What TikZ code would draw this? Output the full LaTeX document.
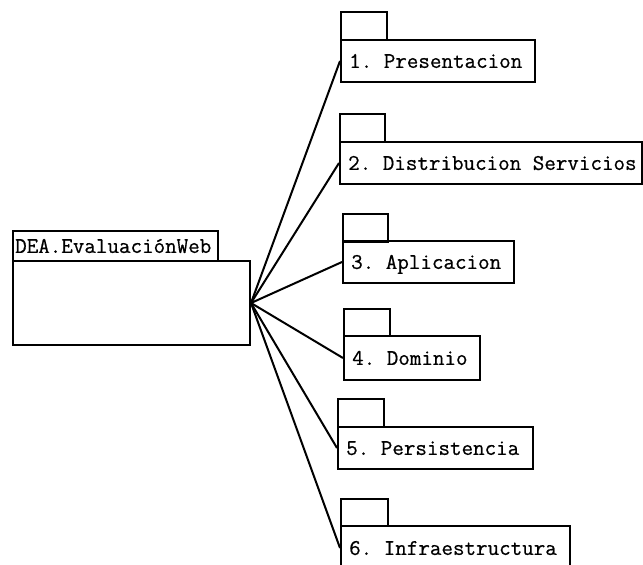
\documentclass[tikz,border=0pt]{standalone}
\usepackage{fontspec}
\newfontfamily\pkgfont{Latin Modern Mono}[UprightFeatures={FakeBold=0.6}]
\begin{document}
\begin{tikzpicture}[x=1pt,y=-1pt,
  box/.style={draw=black,line width=2pt,rectangle,anchor=north west,inner sep=0pt},
  tabbox/.style={box,minimum width=#1,minimum height=28},
  pkgbody/.style={box,minimum width=#1,minimum height=42},
  pkgname/.style={font=\pkgfont\fontsize{22.4}{24}\selectfont\frenchspacing,anchor=west,
    inner sep=0pt,text height=13.8pt,text depth=0pt},
  link/.style={draw=black,line width=2pt}]
  \useasboundingbox (0,0) rectangle (643,565);
  \clip (0,0) rectangle (643,565);

  % main package
  \node[box,minimum width=205,minimum height=30] (maintab) at (12,230) {};
  \node[pkgname] (mainname) at ([xshift=3pt]maintab.west) {DEA.EvaluaciónWeb};
  \node[box,minimum width=237,minimum height=84] (main) at (12,260) {};
  \coordinate (hub) at (main.east);

  % sub-packages: tab, body and name
  \node[tabbox=46] (t1) at (340,11) {};
  \node[pkgbody=194] (p1) at (340,39) {};
  \node[pkgname] (n1) at ([xshift=9pt]p1.west) {1. Presentacion};

  \node[tabbox=45] (t2) at (339,113) {};
  \node[pkgbody=302] (p2) at (339,141) {};
  \node[pkgname] (n2) at ([xshift=9pt]p2.west) {2. Distribucion Servicios};

  \node[tabbox=45] (t3) at (342,213) {};
  \node[pkgbody=171] (p3) at (342,240) {};
  \node[pkgname] (n3) at ([xshift=9pt]p3.west) {3. Aplicacion};

  \node[tabbox=46,minimum height=27] (t4) at (343,308) {};
  \node[pkgbody=136,minimum height=44] (p4) at (343,335) {};
  \node[pkgname] (n4) at ([xshift=9pt]p4.west) {4. Dominio};

  \node[tabbox=46] (t5) at (337,398) {};
  \node[pkgbody=195] (p5) at (337,426) {};
  \node[pkgname] (n5) at ([xshift=9pt]p5.west) {5. Persistencia};

  \node[tabbox=47,minimum height=27] (t6) at (340,498) {};
  \node[pkgbody=229,minimum height=44] (p6) at (340,525) {};
  \node[pkgname] (n6) at ([xshift=9pt]p6.west) {6. Infraestructura};

  % connectors
  \foreach \p in {p1,p2,p3,p4,p5,p6}
    \draw[link] (hub) -- (\p.west);
\end{tikzpicture}
\end{document}
